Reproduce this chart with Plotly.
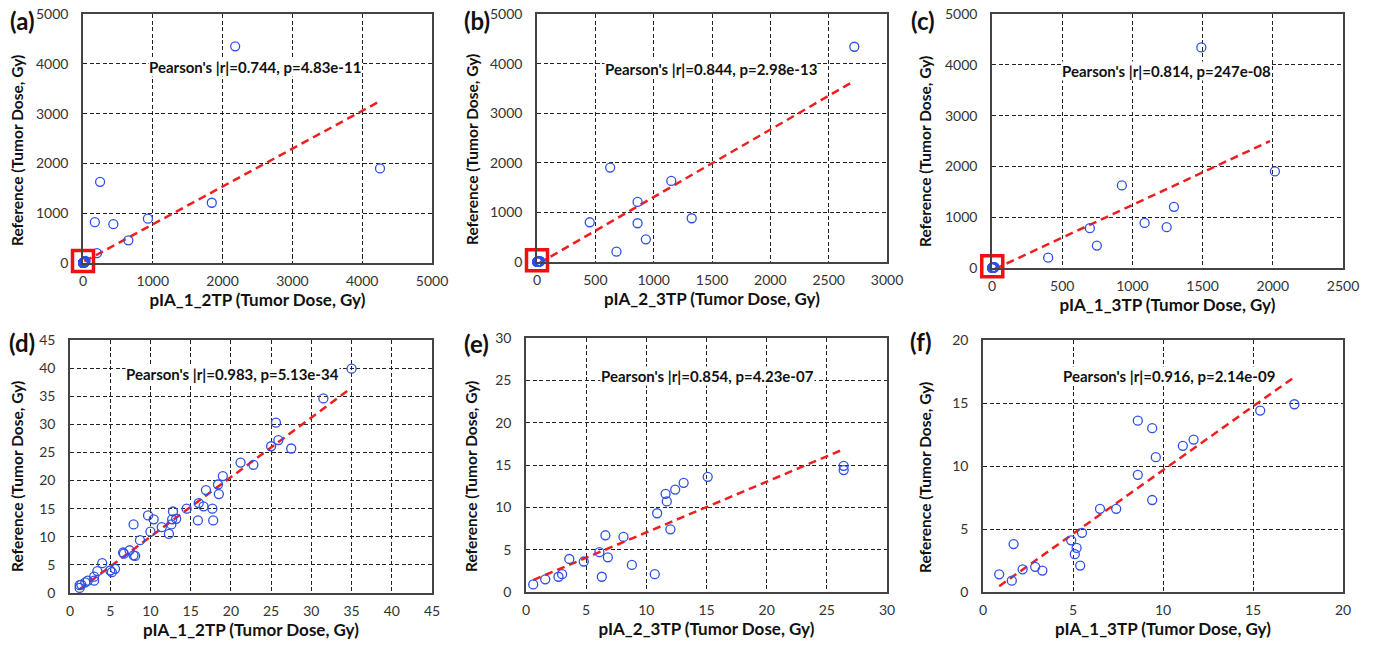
import plotly.graph_objects as go

# ---------------- data ----------------
# (a) pIA_1_2TP vs Reference, large-dose points
a_x = [2180, 245, 170, 435, 930, 650, 1845, 4255, 200]
a_y = [4350, 1630, 820, 780, 890, 455, 1210, 1900, 200]
# (b) pIA_2_3TP vs Reference, large-dose points
b_x = [2720, 627, 1151, 862, 452, 862, 933, 681, 1326]
b_y = [4340, 1904, 1635, 1211, 801, 781, 458, 209, 882]
# (c) pIA_1_3TP vs Reference, large-dose points
c_x = [1491, 925, 697, 747, 400, 1087, 1244, 1296, 2015]
c_y = [4342, 1625, 783, 441, 204, 888, 803, 1204, 1901]

# (d) pIA_1_2TP vs Reference, small-dose points
d_x = [35.0, 31.5, 25.6, 25.9, 25.0, 27.5, 21.2, 22.8, 19.0, 18.4, 18.5, 16.9,
       16.0, 16.6, 17.7, 14.5, 15.9, 17.8, 12.8, 12.7, 13.2, 12.6, 11.4, 12.3,
       9.7, 10.4, 10.0, 7.9, 8.7, 6.7, 6.6, 7.4, 7.9, 8.1, 5.2, 5.6, 4.0, 3.4,
       3.0, 3.0, 2.2, 1.9, 1.4, 1.2, 1.2, 5.0]
d_y = [39.9, 34.6, 30.3, 27.2, 26.1, 25.7, 23.2, 22.8, 20.8, 19.3, 17.6, 18.3,
       16.0, 15.4, 15.0, 15.0, 12.9, 12.9, 14.5, 13.1, 13.2, 12.2, 11.7, 10.5,
       13.8, 13.1, 10.9, 12.2, 9.4, 7.0, 7.2, 7.6, 6.7, 6.6, 3.7, 4.3, 5.3, 3.9,
       2.9, 2.2, 2.2, 1.9, 1.5, 1.4, 0.9, 4.0]
# (e) pIA_2_3TP vs Reference, small-dose points
e_x = [26.4, 26.4, 15.1, 13.1, 12.4, 11.6, 11.7, 10.9, 12.0, 6.6, 8.1, 6.1,
       6.8, 3.6, 4.8, 8.8, 6.3, 10.7, 3.0, 2.7, 1.6, 0.6]
e_y = [14.9, 14.4, 13.6, 12.9, 12.1, 11.6, 10.7, 9.3, 7.4, 6.7, 6.5, 4.7,
       4.1, 3.9, 3.6, 3.2, 1.8, 2.1, 2.1, 1.8, 1.5, 0.9]
# (f) pIA_1_3TP vs Reference, small-dose points
f_x = [17.3, 15.4, 8.6, 9.4, 11.7, 11.1, 9.6, 8.6, 9.4, 6.5, 7.4, 5.5, 4.9,
       5.2, 5.1, 5.4, 1.7, 0.9, 1.6, 2.2, 2.9, 3.3]
f_y = [14.9, 14.4, 13.6, 13.0, 12.1, 11.6, 10.7, 9.3, 7.3, 6.6, 6.6, 4.7, 4.1,
       3.5, 3.0, 2.1, 3.8, 1.4, 0.9, 1.8, 2.0, 1.7]

# linear fits: slope, intercept, x start, x end
fit_a = (0.760, 16, 20, 4226)
fit_b = (1.36, -50, 20, 2690)
fit_c = (1.285, -45, 20, 1980)
fit_d = (1.06, -0.6, 1.2, 34.7)
fit_e = (0.599, 1.05, 0.6, 26.3)
fit_f = (1.012, -0.45, 0.9, 17.4)

# red box highlighting the small-dose cluster
box_a = ([0], [40])
box_b = ([0], [35])
box_c = ([2], [35])

stats = ["Pearson's |r|=0.744, p=4.83e-11",
         "Pearson's |r|=0.844, p=2.98e-13",
         "Pearson's |r|=0.814, p=247e-08",
         "Pearson's |r|=0.983, p=5.13e-34",
         "Pearson's |r|=0.854, p=4.23e-07",
         "Pearson's |r|=0.916, p=2.14e-09"]
x_titles = ["pIA_1_2TP (Tumor Dose, Gy)", "pIA_2_3TP (Tumor Dose, Gy)",
            "pIA_1_3TP (Tumor Dose, Gy)", "pIA_1_2TP (Tumor Dose, Gy)",
            "pIA_2_3TP (Tumor Dose, Gy)", "pIA_1_3TP (Tumor Dose, Gy)"]
y_title = "Reference (Tumor Dose, Gy)"
labels = ["(a)", "(b)", "(c)", "(d)", "(e)", "(f)"]
x_ranges = [(0, 5000, 1000), (0, 3000, 500), (0, 2500, 500),
            (0, 45, 5), (0, 30, 5), (0, 20, 5)]
y_ranges = [(0, 5000, 1000), (0, 5000, 1000), (0, 5000, 1000),
            (0, 45, 5), (0, 30, 5), (0, 20, 5)]

# ---------------- layout geometry ----------------
W, H = 1373, 648
# plot areas in pixels: (left, right, top, bottom)
boxes = [(83, 432, 14, 263), (537, 887, 14, 262), (992, 1343, 14, 268),
         (70, 432, 340, 593), (526, 887, 338, 592), (983, 1343, 340, 592)]
stat_pos = [(0.493, 0.787), (0.497, 0.778), (0.496, 0.776),
            (0.450, 0.866), (0.504, 0.850), (0.517, 0.857)]
label_pos = [(22, 20), (477, 20), (923, 20), (22, 342), (476, 343), (921, 341)]
ytitle_pos = [(17, 151), (472, 150), (925, 152), (17, 477), (471, 477), (925, 478)]

BLUE = "#2f50e6"
RED = "#f01e1e"
GRID = "#222222"
FONT = "Lato"

pts_x = [a_x + d_x, b_x + e_x, c_x + f_x, d_x, e_x, f_x]
pts_y = [a_y + d_y, b_y + e_y, c_y + f_y, d_y, e_y, f_y]
fits = [fit_a, fit_b, fit_c, fit_d, fit_e, fit_f]
red_boxes = [box_a, box_b, box_c, None, None, None]

fig = go.Figure()
annotations = []
for i in range(6):
    n = "" if i == 0 else str(i + 1)
    xa, ya = "x" + n, "y" + n
    l, r, t, b = boxes[i]
    xr, yr = x_ranges[i], y_ranges[i]
    axis_common = dict(
        showgrid=True, gridcolor=GRID, gridwidth=1.3, griddash="4px,2.5px",
        showline=True, linecolor="#444444", linewidth=1.6, mirror=True,
        zeroline=False, ticks="", automargin=False,
        tickfont=dict(family=FONT, size=14, color="#333333"),
    )
    fig.layout["xaxis" + n] = dict(
        domain=[l / W, r / W], anchor=ya, range=[xr[0], xr[1]], dtick=xr[2],
        tick0=0, ticklabelstandoff=4,
        title=dict(text=x_titles[i], standoff=2,
                   font=dict(family=FONT, size=17, color="#111111", weight="bold")),
        **axis_common)
    fig.layout["yaxis" + n] = dict(
        domain=[1 - b / H, 1 - t / H], anchor=xa, range=[yr[0], yr[1]], dtick=yr[2],
        tick0=0, ticklabelstandoff=10, **axis_common)

    s, c0, x0, x1 = fits[i]
    fig.add_trace(go.Scatter(
        x=[x0, x1], y=[s * x0 + c0, s * x1 + c0], mode="lines",
        line=dict(color=RED, width=2.5, dash="8px,5px"),
        xaxis=xa, yaxis=ya, showlegend=False, hoverinfo="skip"))
    fig.add_trace(go.Scatter(
        x=pts_x[i], y=pts_y[i], mode="markers",
        marker=dict(symbol="circle-open", size=9, color=BLUE, line=dict(width=1.3, color=BLUE)),
        xaxis=xa, yaxis=ya, showlegend=False, cliponaxis=False))
    if red_boxes[i] is not None:
        bx, by = red_boxes[i]
        fig.add_trace(go.Scatter(
            x=bx, y=by, mode="markers",
            marker=dict(symbol="square-open", size=21, color="#ee1111",
                        line=dict(width=3.5, color="#ee1111")),
            xaxis=xa, yaxis=ya, showlegend=False, cliponaxis=False, hoverinfo="skip"))

    sx, sy = stat_pos[i]
    annotations.append(dict(
        text=stats[i], xref=xa + " domain", yref=ya + " domain", x=sx, y=sy,
        xanchor="center", yanchor="middle",
        showarrow=False, bgcolor="white", borderpad=0,
        font=dict(family=FONT, size=15, color="#111111", weight="bold")))
    lx, ly = label_pos[i]
    annotations.append(dict(
        text=labels[i], xref="paper", yref="paper", x=lx / W, y=1 - ly / H,
        xanchor="center", yanchor="middle", showarrow=False,
        font=dict(family=FONT, size=24, color="#111111", weight="bold")))
    tx, ty = ytitle_pos[i]
    annotations.append(dict(
        text=y_title, xref="paper", yref="paper", x=tx / W, y=1 - ty / H,
        xanchor="center", yanchor="middle", showarrow=False, textangle=-90,
        font=dict(family=FONT, size=15.5, color="#111111", weight="bold")))

fig.update_layout(
    width=W, height=H, margin=dict(l=0, r=0, t=0, b=0),
    paper_bgcolor="white", plot_bgcolor="white",
    annotations=annotations, showlegend=False,
)
fig.write_html("out.html", config={"displayModeBar": False},
               post_script="document.body.style.margin='0';document.body.style.overflow='hidden';")
